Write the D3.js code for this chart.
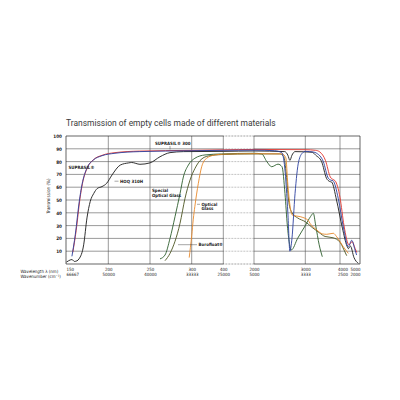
<!DOCTYPE html>
<html>
<head>
<meta charset="utf-8">
<script src="https://cdn.jsdelivr.net/npm/d3@7"></script>
<style>
  body { margin: 0; background: #fff; }
  svg { display: block; }
  .tick text { font-family: "Liberation Sans Narrow", "DejaVu Sans Condensed", sans-serif; }
</style>
</head>
<body>
<svg></svg>
<script>
// ticks and labels
const wavelengthTicks = [150, 200, 250, 300, 400, 2000, 3000, 4000, 5000];
const wavenumberLabels = ["66667", "50000", "40000", "33333", "25000", "5000", "3333", "2500", "2000"];
const transTicks = [10, 20, 30, 40, 50, 60, 70, 80, 90, 100];
const gridValues = [10, 20, 30, 40, 50, 60, 70, 80, 90];

// [wavelength nm, transmission %]
const suprasil = [[157,6],[161,23],[165.7,49],[168.9,62],[174.8,75],[181.9,81],[192.6,84.6],[208,86.5],[237,87.8],[300,88.5],[400,88.8],[2000,89],[2400,88.5],[2540,87],[2600,75],[2660,40],[2700,10],[2740,20],[2800,55],[2870,80],[2950,87],[3000,88],[3230,87.5],[3329,86.5],[3519,80],[3663,67],[3740,65.5],[3800,65],[3951,51],[4165,29],[4415,13.5],[4585,18.5],[4750,11],[4830,7]];
const suprasil300 = [[158,9],[162,26],[166.5,51],[169.5,63],[175.5,75.5],[182.5,81.5],[193,85],[208,87],[237,88.2],[300,88.8],[400,89.2],[2000,89.5],[3000,89.3],[3300,88.8],[3420,87.5],[3580,81],[3720,68],[3800,66],[3860,65],[4000,52],[4200,30],[4450,15],[4600,17.5],[4760,12],[4840,9]];
const hoq310 = [[150.5,1.5],[153,2.5],[157,3.5],[160,2],[163,2.5],[165.4,4],[170.9,15],[174.8,36],[178.7,49],[182.7,55],[187,59],[192.6,60.5],[198,63],[204.4,69.5],[214.4,77.3],[224.5,79],[228,79.3],[238,77.9],[250,79],[262,83.8],[274,87],[290,87.8],[400,88],[2000,88.3],[2600,87.8],[2660,85],[2700,81],[2740,85],[2800,87.8],[3200,87.3],[3300,85],[3470,80],[3610,67],[3700,64.5],[3760,64],[3900,50],[4120,28],[4350,14],[4420,12],[4520,14],[4700,5],[4920,0.5]];
const specialGlass = [[262,4],[268,7],[274,20],[280,37],[286,55],[290,68],[296,77.3],[310,82.6],[342,85.2],[395,86],[2000,86.5],[2150,86],[2250,80],[2345,76],[2468,78],[2546,76],[2604,55],[2650,30],[2729,11],[2850,20],[3000,30],[3150,37],[3231,39.6],[3300,30],[3400,15],[3490,5.7]];
const opticalGlass = [[268,2.6],[274,8.3],[286,31.8],[292,51.3],[298,65.6],[310.4,74.7],[326,80.7],[352.5,84.4],[395,85.5],[2000,86],[2500,86],[2580,84],[2630,70],[2680,48],[2740,40],[2850,36],[3000,33],[3200,28.5],[3400,24.5],[3570,21.5],[3800,20.5],[4000,17],[4200,11],[4335,6.5]];
const borofloat = [[297,5],[300,22],[305,35],[310,45],[321,63],[331.6,76],[347,82.6],[374,85.2],[400,85.8],[2000,86.2],[2550,86],[2620,83],[2660,62],[2700,46],[2754,38],[2900,37],[3086,34],[3135,31.8],[3329,26.6],[3500,23.5],[3617,23.2],[3807,24],[3905,21.3],[4165,13.5],[4415,8.3]];

// drawing order: last one ends on top
const series = [
  { data: opticalGlass, color: "#4b5420" },
  { data: specialGlass, color: "#2c5e2c" },
  { data: borofloat, color: "#e8892b" },
  { data: hoq310, color: "#1a1a1a" },
  { data: suprasil300, color: "#e2342e" },
  { data: suprasil, color: "#2b3f9e" }
];

let width = 400;
let height = 400;
let svg = d3.select('svg');
let xScale, yScale;

function setCanvas(){
  svg.attr("width", width).attr("height", height);
}

function createScales(){
  // broken axis: 400 -> 2000 nm squeezed into one cell
  xScale = d3.scaleLinear()
    .domain(wavelengthTicks)
    .range([66, 108.3, 150, 191.7, 223.3, 254, 305.3, 340, 360]);
  yScale = d3.scaleLinear()
    .domain([0, 100])
    .range([264, 136]);
}

function drawGrid(){
  let g = svg.append('g');
  let xa = xScale(150), xb = xScale(400), xc = xScale(2000), xd = xScale(5000);
  let segs = [];
  gridValues.forEach(v => {
    segs.push({x1: xa, x2: xb, y: yScale(v), dash: null});
    segs.push({x1: xb, x2: xc, y: yScale(v), dash: "0.6,0.9"});
    segs.push({x1: xc, x2: xd, y: yScale(v), dash: null});
  });
  g.selectAll('line.h')
   .data(segs)
   .enter()
   .append('line')
   .attr('x1', d => d.x1).attr('x2', d => d.x2)
   .attr('y1', d => d.y).attr('y2', d => d.y)
   .attr('stroke', '#555')
   .attr('stroke-width', 0.6)
   .attr('stroke-dasharray', d => d.dash);

  g.selectAll('line.v')
   .data(wavelengthTicks.slice(1, -1))
   .enter()
   .append('line')
   .attr('x1', d => xScale(d)).attr('x2', d => xScale(d))
   .attr('y1', yScale(0)).attr('y2', yScale(100))
   .attr('stroke', '#555')
   .attr('stroke-width', 0.6);

  // frame
  let frame = [
    {x1: xa, y1: yScale(0), x2: xa, y2: yScale(100), dash: null},
    {x1: xd, y1: yScale(0), x2: xd, y2: yScale(100), dash: null},
    {x1: xa, y1: yScale(100), x2: xb, y2: yScale(100), dash: null},
    {x1: xb, y1: yScale(100), x2: xc, y2: yScale(100), dash: "0.6,0.9"},
    {x1: xc, y1: yScale(100), x2: xd, y2: yScale(100), dash: null},
    {x1: xa, y1: yScale(0), x2: xb, y2: yScale(0), dash: null},
    {x1: xb, y1: yScale(0), x2: xc, y2: yScale(0), dash: "0.6,0.9"},
    {x1: xc, y1: yScale(0), x2: xd, y2: yScale(0), dash: null}
  ];
  g.selectAll('line.f')
   .data(frame)
   .enter()
   .append('line')
   .attr('x1', d => d.x1).attr('x2', d => d.x2)
   .attr('y1', d => d.y1).attr('y2', d => d.y2)
   .attr('stroke', '#222')
   .attr('stroke-width', 0.7)
   .attr('stroke-dasharray', d => d.dash);
}

function drawAxis(){
  let xAxis = d3.axisBottom(xScale).tickValues(wavelengthTicks).tickSize(0).tickPadding(0)
    .tickFormat(d => String(d));
  let xAxis2 = d3.axisBottom(xScale).tickValues(wavelengthTicks).tickSize(0).tickPadding(0)
    .tickFormat((d, i) => wavenumberLabels[i]);
  let yAxis = d3.axisLeft(yScale).tickValues(transTicks).tickSize(0).tickPadding(4);

  [xAxis, xAxis2].forEach((ax, k) => {
    let g = svg.append('g')
       .attr("transform", "translate(0, " + (268 + k * 5.2) + ")")
       .call(ax);
    g.select('.domain').remove();
    g.selectAll('text')
     .attr('font-size', 4.4)
     .attr('fill', '#222')
     .attr('text-anchor', d => d === 150 ? 'start' : (d === 5000 ? 'end' : 'middle'))
     .attr('dx', d => d === 4000 ? 2.5 : 0);
  });

  let gy = svg.append('g')
     .attr("transform", "translate(" + xScale(150) + ", 0)")
     .call(yAxis);
  gy.select('.domain').remove();
  gy.selectAll('text')
    .attr('font-size', 4.6)
    .attr('font-weight', 'bold')
    .attr('fill', '#222');

  let labelFont = '"Liberation Sans Narrow", "DejaVu Sans Condensed", sans-serif';
  svg.append('text')
     .attr('x', 20.5).attr('y', 272.6)
     .attr('font-family', labelFont).attr('font-size', 4.4).attr('fill', '#222')
     .text('Wavelength  λ (nm)');
  svg.append('text')
     .attr('x', 20.5).attr('y', 277.8)
     .attr('font-family', labelFont).attr('font-size', 4.4).attr('fill', '#222')
     .text('Wavenumber (cm⁻¹)');
  svg.append('text')
     .attr('transform', 'translate(49.5, 196) rotate(-90)')
     .attr('text-anchor', 'middle')
     .attr('font-family', labelFont).attr('font-size', 4.6).attr('fill', '#222')
     .text('Transmission (%)');

  svg.append('text')
     .attr('x', 66).attr('y', 126)
     .attr('font-family', 'Roboto, sans-serif')
     .attr('font-size', 8.45)
     .attr('fill', '#3a3a3a')
     .text('Transmission of empty cells made of different materials');
}

function drawLines(){
  let line = d3.line()
    .x(d => xScale(d[0]))
    .y(d => yScale(d[1]))
    .curve(d3.curveMonotoneX);

  svg.selectAll('path.curve')
     .data(series)
     .enter()
     .append('path')
     .attr('class', 'curve')
     .attr('d', d => line(d.data))
     .attr('fill', 'none')
     .attr('stroke', d => d.color)
     .attr('stroke-width', 0.9)
     .attr('stroke-linejoin', 'round');
}

function drawLabels(){
  let font = '"Liberation Sans Narrow", "DejaVu Sans Condensed", sans-serif';
  let labels = [
    {t: "SUPRASIL® 300", x: 155, y: 144.5},
    {t: "SUPRASIL®", x: 68.5, y: 168.8},
    {t: "HOQ 310H", x: 120, y: 182.6},
    {t: "Special", x: 152, y: 191.8},
    {t: "Optical Glass", x: 152, y: 196.6},
    {t: "Optical", x: 201.5, y: 205.5},
    {t: "Glass", x: 201.5, y: 210.3},
    {t: "Borofloat®", x: 198.5, y: 246}
  ];
  svg.selectAll('text.lab')
     .data(labels)
     .enter()
     .append('text')
     .attr('class', 'lab')
     .attr('x', d => d.x).attr('y', d => d.y)
     .attr('font-family', font)
     .attr('font-size', 4.4)
     .attr('font-weight', 'bold')
     .attr('fill', '#222')
     .text(d => d.t);

  let leaders = [
    {x1: 170, y1: 146, x2: 170, y2: 149.5},
    {x1: 114.5, y1: 181.2, x2: 118.5, y2: 181.2},
    {x1: 197, y1: 204.3, x2: 200, y2: 204.3},
    {x1: 178, y1: 244.7, x2: 197, y2: 244.7}
  ];
  svg.selectAll('line.lead')
     .data(leaders)
     .enter()
     .append('line')
     .attr('x1', d => d.x1).attr('x2', d => d.x2)
     .attr('y1', d => d.y1).attr('y2', d => d.y2)
     .attr('stroke', '#222')
     .attr('stroke-width', 0.4);
}

setCanvas();
createScales();
drawGrid();
drawAxis();
drawLines();
drawLabels();
</script>
</body>
</html>
